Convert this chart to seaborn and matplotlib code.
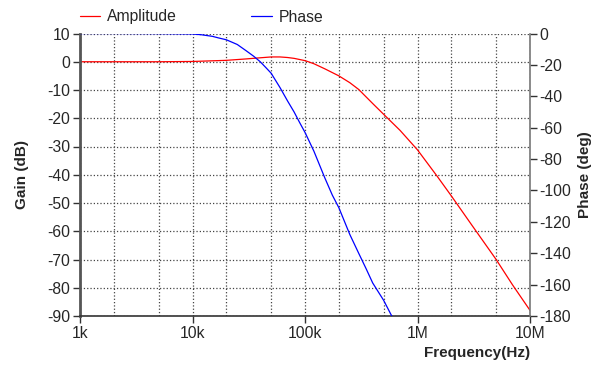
import numpy as np
import pandas as pd
import matplotlib
matplotlib.use("Agg")
import matplotlib.pyplot as plt
from matplotlib.ticker import LogLocator, FixedLocator, NullFormatter
import seaborn as sns

# data
gain_freq = [1e3, 2e3, 5e3, 1e4, 2e4, 3e4, 4e4, 5e4, 6e4, 7e4, 8e4, 1e5, 1.2e5,
             1.5e5, 2e5, 2.5e5, 3e5, 4e5, 5e5, 7e5, 1e6, 1.5e6, 2e6, 3e6, 5e6,
             7e6, 1e7]
gain_db = [0, 0, 0, 0.1, 0.5, 1.0, 1.4, 1.7, 1.7, 1.5, 1.2, 0.4, -0.7,
           -2.5, -5, -7.4, -9.8, -14.8, -18.6, -24.3, -31.2, -40.6, -47.5, -57.5, -70,
           -79, -88]

phase_freq = [1e3, 2e3, 5e3, 1e4, 1.2e4, 1.5e4, 1.7e4, 2e4, 2.5e4, 3e4, 3.5e4, 4e4,
              4.5e4, 5e4, 6e4, 7e4, 8e4, 9e4, 1e5, 1.2e5, 1.5e5, 1.75e5, 2e5,
              2.5e5, 3e5, 3.5e5, 4e5, 5e5, 6e5]
phase_deg = [0, 0, -0.1, -0.3, -0.8, -1.8, -2.8, -4, -7, -11, -14.5, -18,
             -21.8, -25.3, -34.5, -43, -50, -57, -63, -75, -92, -103, -111,
             -128, -140, -150, -159, -170, -181]

gain_ticks = [10, 0, -10, -20, -30, -40, -50, -60, -70, -80, -90]
phase_ticks = [0, -20, -40, -60, -80, -100, -120, -140, -160, -180]
freq_ticks = [1e3, 1e4, 1e5, 1e6, 1e7]
freq_labels = ["1k", "10k", "100k", "1M", "10M"]

sns.set_style("white")
plt.rcParams['font.family'] = ['Liberation Sans', 'DejaVu Sans']
plt.rcParams['axes.unicode_minus'] = False

fig = plt.figure(figsize=(5.95, 3.65), dpi=100)
ax = fig.add_axes([80/595, 1-316/365, 450/595, 282.5/365])
ax2 = ax.twinx()

gdf = pd.DataFrame({"f": gain_freq, "g": gain_db})
pdf = pd.DataFrame({"f": phase_freq, "p": phase_deg})
sns.lineplot(data=gdf, x="f", y="g", ax=ax, color="#ff0000", lw=0.9, label="Amplitude", legend=False)
sns.lineplot(data=pdf, x="f", y="p", ax=ax2, color="#0000ff", lw=0.9, label="Phase", legend=False)

ax.set_xscale("log")
ax.set_xlim(1e3, 1e7)
ax.set_ylim(-90, 10)
ax2.set_ylim(-180, 0)

ax.xaxis.set_major_locator(FixedLocator(freq_ticks))
ax.set_xticklabels(freq_labels)
ax.xaxis.set_minor_locator(LogLocator(base=10, subs=[2, 5]))
ax.xaxis.set_minor_formatter(NullFormatter())
ax.set_yticks(gain_ticks)
ax.set_yticklabels([str(t) for t in gain_ticks])
ax2.set_yticks(phase_ticks)
ax2.set_yticklabels([str(t) for t in phase_ticks])

ax.grid(True, which="both", axis="x", linestyle=":", color="#444444", lw=0.9)
ax.grid(True, which="major", axis="y", linestyle=":", color="#444444", lw=0.9)

ax.tick_params(axis="both", which="major", direction="out", length=5, width=1,
               color="#333333", labelsize=11.3, pad=2, left=True, bottom=True)
ax.tick_params(axis="x", which="minor", length=0)
ax2.tick_params(axis="y", direction="out", length=5, width=1, color="#333333",
                labelsize=11.3, pad=2, right=True)

for a in (ax, ax2):
    for s in ("top", "left", "right", "bottom"):
        a.spines[s].set_visible(False)
ax.spines["left"].set_visible(True)
ax.spines["left"].set_color("#555555")
ax.spines["left"].set_linewidth(2)
ax.spines["bottom"].set_visible(True)
ax.spines["bottom"].set_color("#333333")
ax.spines["bottom"].set_linewidth(1.2)
ax2.spines["right"].set_visible(True)
ax2.spines["right"].set_color("#777777")
ax2.spines["right"].set_linewidth(1.2)

ax.set_xlabel("")
ax.set_ylabel("")
ax2.set_ylabel("")
fig.text(22/595, 1-175/365, "Gain (dB)", rotation=90, ha="center", va="center",
         fontsize=11, fontweight="bold")
fig.text(585/595, 1-175/365, "Phase (deg)", rotation=90, ha="center", va="center",
         fontsize=11, fontweight="bold")
fig.text(530/595, 1-353/365, "Frequency(Hz)", ha="right", va="center",
         fontsize=11, fontweight="bold")

h1, l1 = ax.get_legend_handles_labels()
h2, l2 = ax2.get_legend_handles_labels()
fig.legend(h1 + h2, l1 + l2, loc="center left", bbox_to_anchor=(80/595, 1-17/365),
           ncol=2, frameon=False, fontsize=11.3, handlelength=1.3, handletextpad=0.45,
           columnspacing=4.7, borderaxespad=0, borderpad=0)

fig.savefig("out.png", dpi=100)
